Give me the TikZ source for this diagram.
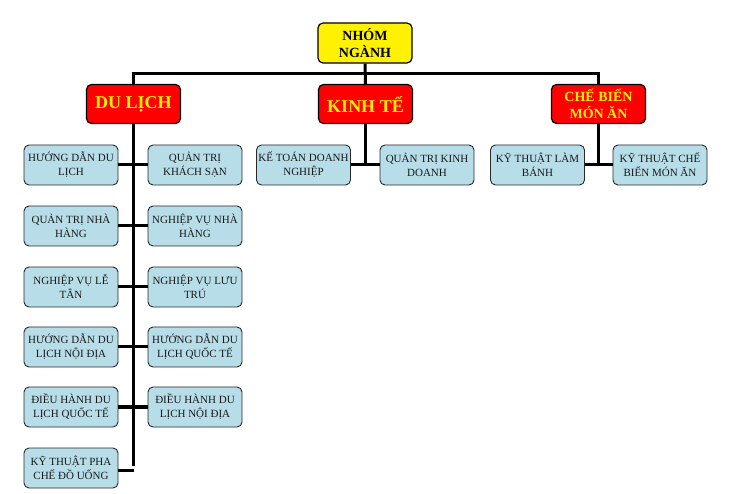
\documentclass[tikz,border=0pt]{standalone}
\usepackage{fontspec}
\setmainfont{Liberation Serif}
\definecolor{childfill}{RGB}{183,221,232}
\definecolor{boxborder}{RGB}{40,40,40}
\definecolor{childtext}{RGB}{25,25,25}
\begin{document}
\begin{tikzpicture}[x=1pt,y=-1pt,
  topbox/.style={draw=black,line width=1.2pt,rounded corners=5pt,fill=yellow,
    minimum width=94pt,minimum height=40pt,align=center,inner sep=1pt,
    font=\fontsize{14}{17}\selectfont\bfseries},
  mainbox/.style={draw=black,line width=1.2pt,rounded corners=5pt,fill=red,
    minimum width=94pt,minimum height=39pt,align=center,inner sep=1pt,text=yellow},
  childbox/.style={draw=boxborder,line width=0.9pt,rounded corners=5pt,fill=childfill,
    minimum width=94pt,minimum height=40pt,align=center,inner sep=1pt,text=childtext,
    font=\fontsize{11}{14}\selectfont},
  conn/.style={line width=3pt,black}]
\useasboundingbox (0,0) rectangle (734,494);
\fill[white] (0,0) rectangle (734,494);

\node[topbox] (top) at (365,43) {NHÓM\\NGÀNH};
\node[mainbox,font=\fontsize{18}{20}\selectfont\bfseries] (dl) at (133.5,104) {DU LỊCH};
\node[mainbox,font=\fontsize{18}{20}\selectfont\bfseries] (kt) at (365.5,104) {KINH TẾ};
\node[mainbox,font=\fontsize{14}{17}\selectfont\bfseries] (cb) at (598.5,104) {CHẾ BIẾN\\MÓN ĂN};

% DU LICH children
\node[childbox] (l1) at (71,165) {HƯỚNG DẪN DU\\LỊCH};
\node[childbox] (r1) at (195,165) {QUẢN TRỊ\\KHÁCH SẠN};
\node[childbox] (l2) at (71,226) {QUẢN TRỊ NHÀ\\HÀNG};
\node[childbox] (r2) at (195,226) {NGHIỆP VỤ NHÀ\\HÀNG};
\node[childbox] (l3) at (71,287) {NGHIỆP VỤ LỄ\\TÂN};
\node[childbox] (r3) at (195,287) {NGHIỆP VỤ LƯU\\TRÚ};
\node[childbox] (l4) at (71,347) {HƯỚNG DẪN DU\\LỊCH NỘI ĐỊA};
\node[childbox] (r4) at (195,347) {HƯỚNG DẪN DU\\LỊCH QUỐC TẾ};
\node[childbox] (l5) at (71,407) {ĐIỀU HÀNH DU\\LỊCH QUỐC TẾ};
\node[childbox] (r5) at (195,407) {ĐIỀU HÀNH DU\\LỊCH NỘI ĐỊA};
\node[childbox] (l6) at (71,468) {KỸ THUẬT PHA\\CHẾ ĐỒ UỐNG};

% KINH TE children
\node[childbox] (k1) at (303.5,165) {KẾ TOÁN DOANH\\NGHIỆP};
\node[childbox] (k2) at (427,165) {QUẢN TRỊ KINH\\DOANH};

% CHE BIEN children
\node[childbox] (c1) at (537.5,165) {KỸ THUẬT LÀM\\BÁNH};
\node[childbox] (c2) at (660,165) {KỸ THUẬT CHẾ\\BIẾN MÓN ĂN};

\coordinate (bus) at (365.5,74);
\coordinate (dlend) at (133.5,466);

% top connectors
\draw[conn] (top.south) -- (kt.north);
\draw[conn] (dl.north) |- (bus) -| (cb.north);

% DU LICH
\draw[conn] (dl.south) -- (dlend);
\draw[conn] (l1.east) -- (r1.west);
\draw[conn] (l2.east) -- (r2.west);
\draw[conn] (l3.east) -- (r3.west);
\draw[conn] (l4.east) -- (r4.west);
\draw[conn] (l5.east) -- (r5.west);
\draw[conn] ([yshift=-2pt]l6.east) -- ([yshift=-2pt]l6.east -| dlend);

% KINH TE
\draw[conn] (kt.south) -- (kt.south |- k1.east);
\draw[conn] (k1.east) -- (k2.west);

% CHE BIEN
\draw[conn] (cb.south) -- (cb.south |- c1.east);
\draw[conn] (c1.east) -- (c2.west);
\end{tikzpicture}
\end{document}
